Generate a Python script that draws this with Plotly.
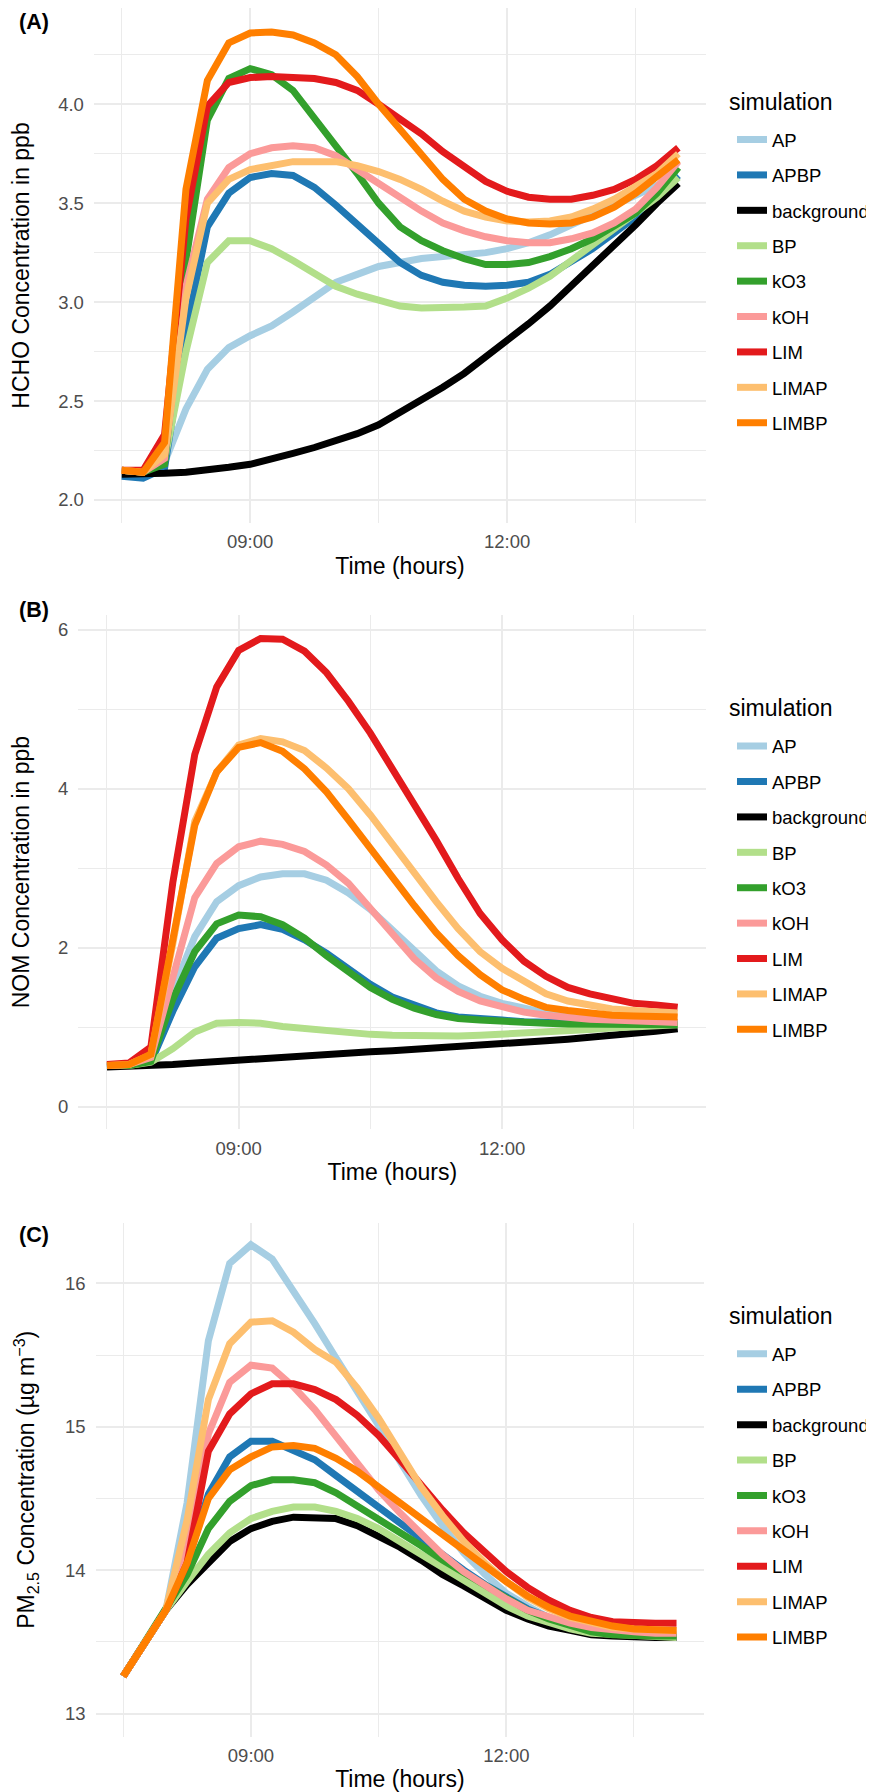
import plotly.graph_objects as go

# ---------------- data ----------------
times = ["07:30", "07:45", "08:00", "08:15", "08:30", "08:45", "09:00", "09:15", "09:30",
         "09:45", "10:00", "10:15", "10:30", "10:45", "11:00", "11:15", "11:30", "11:45",
         "12:00", "12:15", "12:30", "12:45", "13:00", "13:15", "13:30", "13:45", "14:00"]

simulations = ["AP", "APBP", "background", "BP", "kO3", "kOH", "LIM", "LIMAP", "LIMBP"]

# (A) HCHO concentration in ppb
hcho_AP = [2.15, 2.13, 2.19, 2.46, 2.66, 2.77, 2.83, 2.88, 2.95, 3.03, 3.10, 3.14, 3.18, 3.20,
           3.22, 3.23, 3.24, 3.25, 3.27, 3.30, 3.34, 3.39, 3.44, 3.49, 3.54, 3.59, 3.64]
hcho_APBP = [2.12, 2.11, 2.16, 2.85, 3.38, 3.55, 3.63, 3.65, 3.64, 3.58, 3.49, 3.39, 3.29, 3.20,
             3.135, 3.10, 3.085, 3.08, 3.085, 3.10, 3.14, 3.20, 3.27, 3.35, 3.43, 3.53, 3.64]
hcho_background = [2.13, 2.13, 2.135, 2.14, 2.15, 2.165, 2.18, 2.205, 2.235, 2.265, 2.30, 2.335,
                   2.38, 2.44, 2.50, 2.57, 2.64, 2.72, 2.80, 2.89, 2.98, 3.08, 3.18, 3.29, 3.39,
                   3.50, 3.60]
hcho_BP = [2.15, 2.14, 2.20, 2.75, 3.20, 3.31, 3.31, 3.27, 3.21, 3.14, 3.08, 3.04, 3.01, 2.98,
           2.97, 2.97, 2.975, 2.98, 3.02, 3.07, 3.13, 3.21, 3.29, 3.38, 3.45, 3.53, 3.63]
hcho_kO3 = [2.15, 2.14, 2.18, 3.21, 3.92, 4.13, 4.18, 4.15, 4.07, 3.93, 3.80, 3.65, 3.50, 3.38,
            3.31, 3.26, 3.22, 3.19, 3.19, 3.20, 3.23, 3.27, 3.32, 3.38, 3.45, 3.55, 3.68]
hcho_kOH = [2.15, 2.14, 2.21, 3.08, 3.52, 3.68, 3.75, 3.78, 3.79, 3.78, 3.74, 3.67, 3.59, 3.52,
            3.46, 3.40, 3.36, 3.33, 3.31, 3.30, 3.30, 3.32, 3.35, 3.40, 3.47, 3.58, 3.71]
hcho_LIM = [2.15, 2.15, 2.33, 3.42, 3.99, 4.11, 4.135, 4.14, 4.135, 4.13, 4.11, 4.07, 4.00, 3.93,
            3.85, 3.76, 3.68, 3.61, 3.56, 3.53, 3.52, 3.52, 3.54, 3.57, 3.62, 3.69, 3.78]
hcho_LIMAP = [2.15, 2.14, 2.23, 3.02, 3.50, 3.62, 3.67, 3.69, 3.71, 3.71, 3.71, 3.69, 3.66, 3.62,
              3.57, 3.51, 3.46, 3.43, 3.41, 3.405, 3.41, 3.43, 3.47, 3.52, 3.58, 3.65, 3.75]
hcho_LIMBP = [2.15, 2.14, 2.29, 3.57, 4.12, 4.31, 4.36, 4.365, 4.35, 4.31, 4.25, 4.14, 4.00, 3.87,
              3.74, 3.62, 3.52, 3.46, 3.42, 3.40, 3.395, 3.40, 3.43, 3.48, 3.55, 3.63, 3.72]

# (B) NOM concentration in ppb
nom_AP = [0.52, 0.53, 0.60, 1.45, 2.14, 2.58, 2.78, 2.89, 2.93, 2.93, 2.85, 2.69, 2.48, 2.22,
          1.95, 1.71, 1.52, 1.39, 1.30, 1.23, 1.18, 1.14, 1.11, 1.09, 1.08, 1.07, 1.06]
nom_APBP = [0.52, 0.52, 0.56, 1.20, 1.76, 2.12, 2.24, 2.29, 2.23, 2.10, 1.93, 1.74, 1.54, 1.38,
            1.27, 1.18, 1.13, 1.10, 1.09, 1.07, 1.06, 1.05, 1.05, 1.04, 1.04, 1.04, 1.04]
nom_background = [0.50, 0.505, 0.515, 0.53, 0.55, 0.57, 0.59, 0.61, 0.63, 0.645, 0.66, 0.675, 0.69,
                  0.705, 0.72, 0.74, 0.755, 0.77, 0.79, 0.81, 0.83, 0.85, 0.87, 0.895, 0.92, 0.95,
                  0.98]
nom_BP = [0.52, 0.52, 0.56, 0.73, 0.94, 1.05, 1.06, 1.05, 1.01, 0.98, 0.95, 0.93, 0.91, 0.90,
          0.89, 0.89, 0.89, 0.90, 0.91, 0.92, 0.94, 0.96, 0.97, 0.99, 1.00, 1.01, 1.03]
nom_kO3 = [0.52, 0.52, 0.57, 1.35, 1.95, 2.30, 2.41, 2.39, 2.29, 2.12, 1.90, 1.69, 1.50, 1.35,
           1.24, 1.16, 1.11, 1.09, 1.07, 1.06, 1.05, 1.04, 1.04, 1.03, 1.03, 1.03, 1.03]
nom_kOH = [0.52, 0.53, 0.62, 1.65, 2.63, 3.06, 3.27, 3.34, 3.30, 3.21, 3.04, 2.81, 2.50, 2.16,
           1.86, 1.62, 1.45, 1.33, 1.25, 1.19, 1.15, 1.12, 1.10, 1.09, 1.08, 1.07, 1.06]
nom_LIM = [0.53, 0.55, 0.75, 2.82, 4.43, 5.28, 5.74, 5.89, 5.88, 5.73, 5.46, 5.10, 4.70, 4.26,
           3.78, 3.35, 2.87, 2.43, 2.10, 1.83, 1.64, 1.50, 1.42, 1.35, 1.30, 1.28, 1.25]
nom_LIMAP = [0.52, 0.53, 0.65, 2.05, 3.59, 4.21, 4.55, 4.63, 4.59, 4.48, 4.26, 4.00, 3.67, 3.30,
             2.94, 2.58, 2.24, 1.95, 1.74, 1.57, 1.42, 1.33, 1.27, 1.23, 1.21, 1.19, 1.18]
nom_LIMBP = [0.52, 0.53, 0.66, 2.15, 3.54, 4.21, 4.52, 4.58, 4.47, 4.25, 3.96, 3.61, 3.25, 2.87,
             2.53, 2.19, 1.90, 1.66, 1.47, 1.35, 1.25, 1.21, 1.17, 1.15, 1.14, 1.14, 1.13]

# (C) PM2.5 concentration in ug m-3
pm_AP = [13.26, 13.49, 13.72, 14.47, 15.60, 16.14, 16.27, 16.17, 15.95, 15.72, 15.48, 15.25, 15.01,
         14.76, 14.52, 14.31, 14.12, 13.97, 13.84, 13.75, 13.67, 13.62, 13.58, 13.55, 13.54, 13.54,
         13.53]
pm_APBP = [13.26, 13.49, 13.72, 14.05, 14.53, 14.79, 14.90, 14.90, 14.84, 14.77, 14.66, 14.55,
           14.43, 14.32, 14.21, 14.10, 14.00, 13.90, 13.81, 13.73, 13.67, 13.62, 13.59, 13.57,
           13.56, 13.55, 13.55]
pm_background = [13.26, 13.49, 13.72, 13.90, 14.05, 14.20, 14.29, 14.34, 14.37, 14.37, 14.36,
                 14.31, 14.24, 14.16, 14.07, 13.97, 13.89, 13.80, 13.72, 13.66, 13.61, 13.58,
                 13.55, 13.54, 13.53, 13.53, 13.53]
pm_BP = [13.26, 13.49, 13.72, 13.92, 14.11, 14.26, 14.36, 14.41, 14.44, 14.44, 14.41, 14.36, 14.29,
         14.20, 14.11, 14.01, 13.92, 13.83, 13.75, 13.68, 13.63, 13.59, 13.56, 13.55, 13.54, 13.53,
         13.53]
pm_kO3 = [13.26, 13.49, 13.72, 13.97, 14.29, 14.48, 14.59, 14.63, 14.63, 14.61, 14.54, 14.45,
          14.36, 14.27, 14.17, 14.07, 13.98, 13.89, 13.80, 13.72, 13.66, 13.61, 13.57, 13.55,
          13.54, 13.54, 13.54]
pm_kOH = [13.26, 13.49, 13.72, 14.15, 14.95, 15.31, 15.43, 15.41, 15.28, 15.12, 14.93, 14.74,
          14.56, 14.40, 14.25, 14.11, 13.99, 13.89, 13.80, 13.72, 13.67, 13.63, 13.60, 13.58,
          13.57, 13.56, 13.56]
pm_LIM = [13.26, 13.49, 13.72, 14.05, 14.83, 15.09, 15.23, 15.30, 15.30, 15.26, 15.19, 15.08, 14.94,
          14.77, 14.59, 14.42, 14.26, 14.12, 13.99, 13.88, 13.79, 13.72, 13.67, 13.64, 13.63,
          13.63, 13.63]
pm_LIMAP = [13.26, 13.49, 13.72, 14.35, 15.19, 15.58, 15.73, 15.74, 15.66, 15.54, 15.45, 15.27,
            15.06, 14.82, 14.58, 14.38, 14.20, 14.05, 13.92, 13.81, 13.73, 13.67, 13.63, 13.60,
            13.59, 13.58, 13.58]
pm_LIMBP = [13.26, 13.49, 13.72, 14.05, 14.50, 14.70, 14.79, 14.86, 14.87, 14.85, 14.78, 14.69,
            14.58, 14.47, 14.35, 14.24, 14.13, 14.02, 13.92, 13.82, 13.74, 13.68, 13.64, 13.61,
            13.59, 13.59, 13.58]

colors = ["#A6CEE3", "#1F78B4", "#000000", "#B2DF8A", "#33A02C",
          "#FB9A99", "#E31A1C", "#FDBF6F", "#FF7F00"]

hcho = [hcho_AP, hcho_APBP, hcho_background, hcho_BP, hcho_kO3, hcho_kOH, hcho_LIM, hcho_LIMAP, hcho_LIMBP]
nom = [nom_AP, nom_APBP, nom_background, nom_BP, nom_kO3, nom_kOH, nom_LIM, nom_LIMAP, nom_LIMBP]
pm = [pm_AP, pm_APBP, pm_background, pm_BP, pm_kO3, pm_kOH, pm_LIM, pm_LIMAP, pm_LIMBP]

# ---------------- layout helpers ----------------
# The browser page has an 8px body margin, so the figure is drawn 8px in from the
# top-left corner; positions below are given in page pixels and converted.
PAGE_W, PAGE_H = 874, 1792
OFF = 8
W, H = PAGE_W - OFF, PAGE_H - OFF
FONT = "Liberation Sans, Arial, Helvetica, sans-serif"
GRID = "#EBEBEB"
x_dates = ["2000-01-01 " + t + ":00" for t in times]


def fx(p):
    return (p - OFF) / W


def fy(p):
    return 1 - (p - OFF) / H


panels = [
    dict(vals=hcho, ytitle="HCHO Concentration in ppb", xd=(94, 707), yd=(8.3, 522.7),
         yr=(1.885, 4.485), tick0=2, dtick=0.5, minor=0.25, fmt=".1f", label="(A)", label_y=22),
    dict(vals=nom, ytitle="NOM Concentration in ppb", xd=(78.5, 707), yd=(614.9, 1129.3),
         yr=(-0.284, 6.186), tick0=0, dtick=2, minor=1, fmt="d", label="(B)", label_y=610),
    dict(vals=pm, ytitle="PM<sub>2.5</sub> Concentration (µg m<sup>−3</sup>)", xd=(95.7, 705),
         yd=(1222.7, 1736.9), yr=(12.837, 16.424), tick0=13, dtick=1, minor=0.5, fmt="d",
         label="(C)", label_y=1235),
]

fig = go.Figure()
layout = dict(
    width=W, height=H, margin=dict(l=0, r=0, t=0, b=0),
    paper_bgcolor="white", plot_bgcolor="white",
    font=dict(family=FONT, color="black"),
    showlegend=True, annotations=[],
)

for k, p in enumerate(panels):
    sfx = "" if k == 0 else str(k + 1)
    xa, ya = "x" + sfx, "y" + sfx
    leg = "legend" + sfx
    for name, col, vals in zip(simulations, colors, p["vals"]):
        fig.add_trace(go.Scatter(
            x=x_dates, y=vals, mode="lines", name=name,
            line=dict(color=col, width=7),
            xaxis=xa, yaxis=ya, legend=leg, legendgroup=f"{k}_{name}",
        ))
    top, bottom = p["yd"]
    center = (top + bottom) / 2
    layout["xaxis" + sfx] = dict(
        domain=[fx(p["xd"][0]), fx(p["xd"][1])], anchor=ya, type="date",
        range=["2000-01-01 07:10:30", "2000-01-01 14:19:30"],
        tick0="2000-01-01 09:00:00", dtick=3 * 3600 * 1000, tickformat="%H:%M",
        showgrid=True, gridcolor=GRID, gridwidth=2, zeroline=False, showline=False,
        ticks="", ticklabelstandoff=6,
        tickfont=dict(size=18.5, color="#4D4D4D", family=FONT),
        minor=dict(tick0="2000-01-01 07:30:00", dtick=1.5 * 3600 * 1000, showgrid=True,
                   gridcolor=GRID, gridwidth=1.2, ticks=""),
        title=dict(text="Time (hours)", font=dict(size=23, color="black", family=FONT), standoff=6),
    )
    layout["yaxis" + sfx] = dict(
        domain=[fy(bottom), fy(top)], anchor=xa,
        range=list(p["yr"]), tick0=p["tick0"], dtick=p["dtick"], tickformat=p["fmt"],
        showgrid=True, gridcolor=GRID, gridwidth=2, zeroline=False, showline=False,
        ticks="", ticklabelstandoff=9,
        tickfont=dict(size=18.5, color="#4D4D4D", family=FONT),
        minor=dict(dtick=p["minor"], tick0=p["tick0"], showgrid=True, gridcolor=GRID,
                   gridwidth=1.2, ticks=""),
        title=dict(text=p["ytitle"], font=dict(size=23, color="black", family=FONT), standoff=23),
    )
    layout[leg] = dict(
        x=fx(733), xanchor="left", y=fy(center + 16), yanchor="middle",
        bgcolor="rgba(0,0,0,0)", borderwidth=0,
        font=dict(size=18.5, color="black", family=FONT),
        tracegroupgap=8.35, itemwidth=30, traceorder="grouped",
    )
    # legend title
    layout["annotations"].append(dict(
        text="simulation", x=fx(728), y=fy(center - 164), xref="paper", yref="paper",
        xanchor="left", yanchor="middle", showarrow=False,
        font=dict(size=23, color="black", family=FONT),
    ))
    # panel tag
    layout["annotations"].append(dict(
        text="<b>" + p["label"] + "</b>", x=fx(17), y=fy(p["label_y"]), xref="paper", yref="paper",
        xanchor="left", yanchor="middle", showarrow=False,
        font=dict(size=21.5, color="black", family=FONT),
    ))

fig.update_layout(**layout)
fig.write_html("out.html")
